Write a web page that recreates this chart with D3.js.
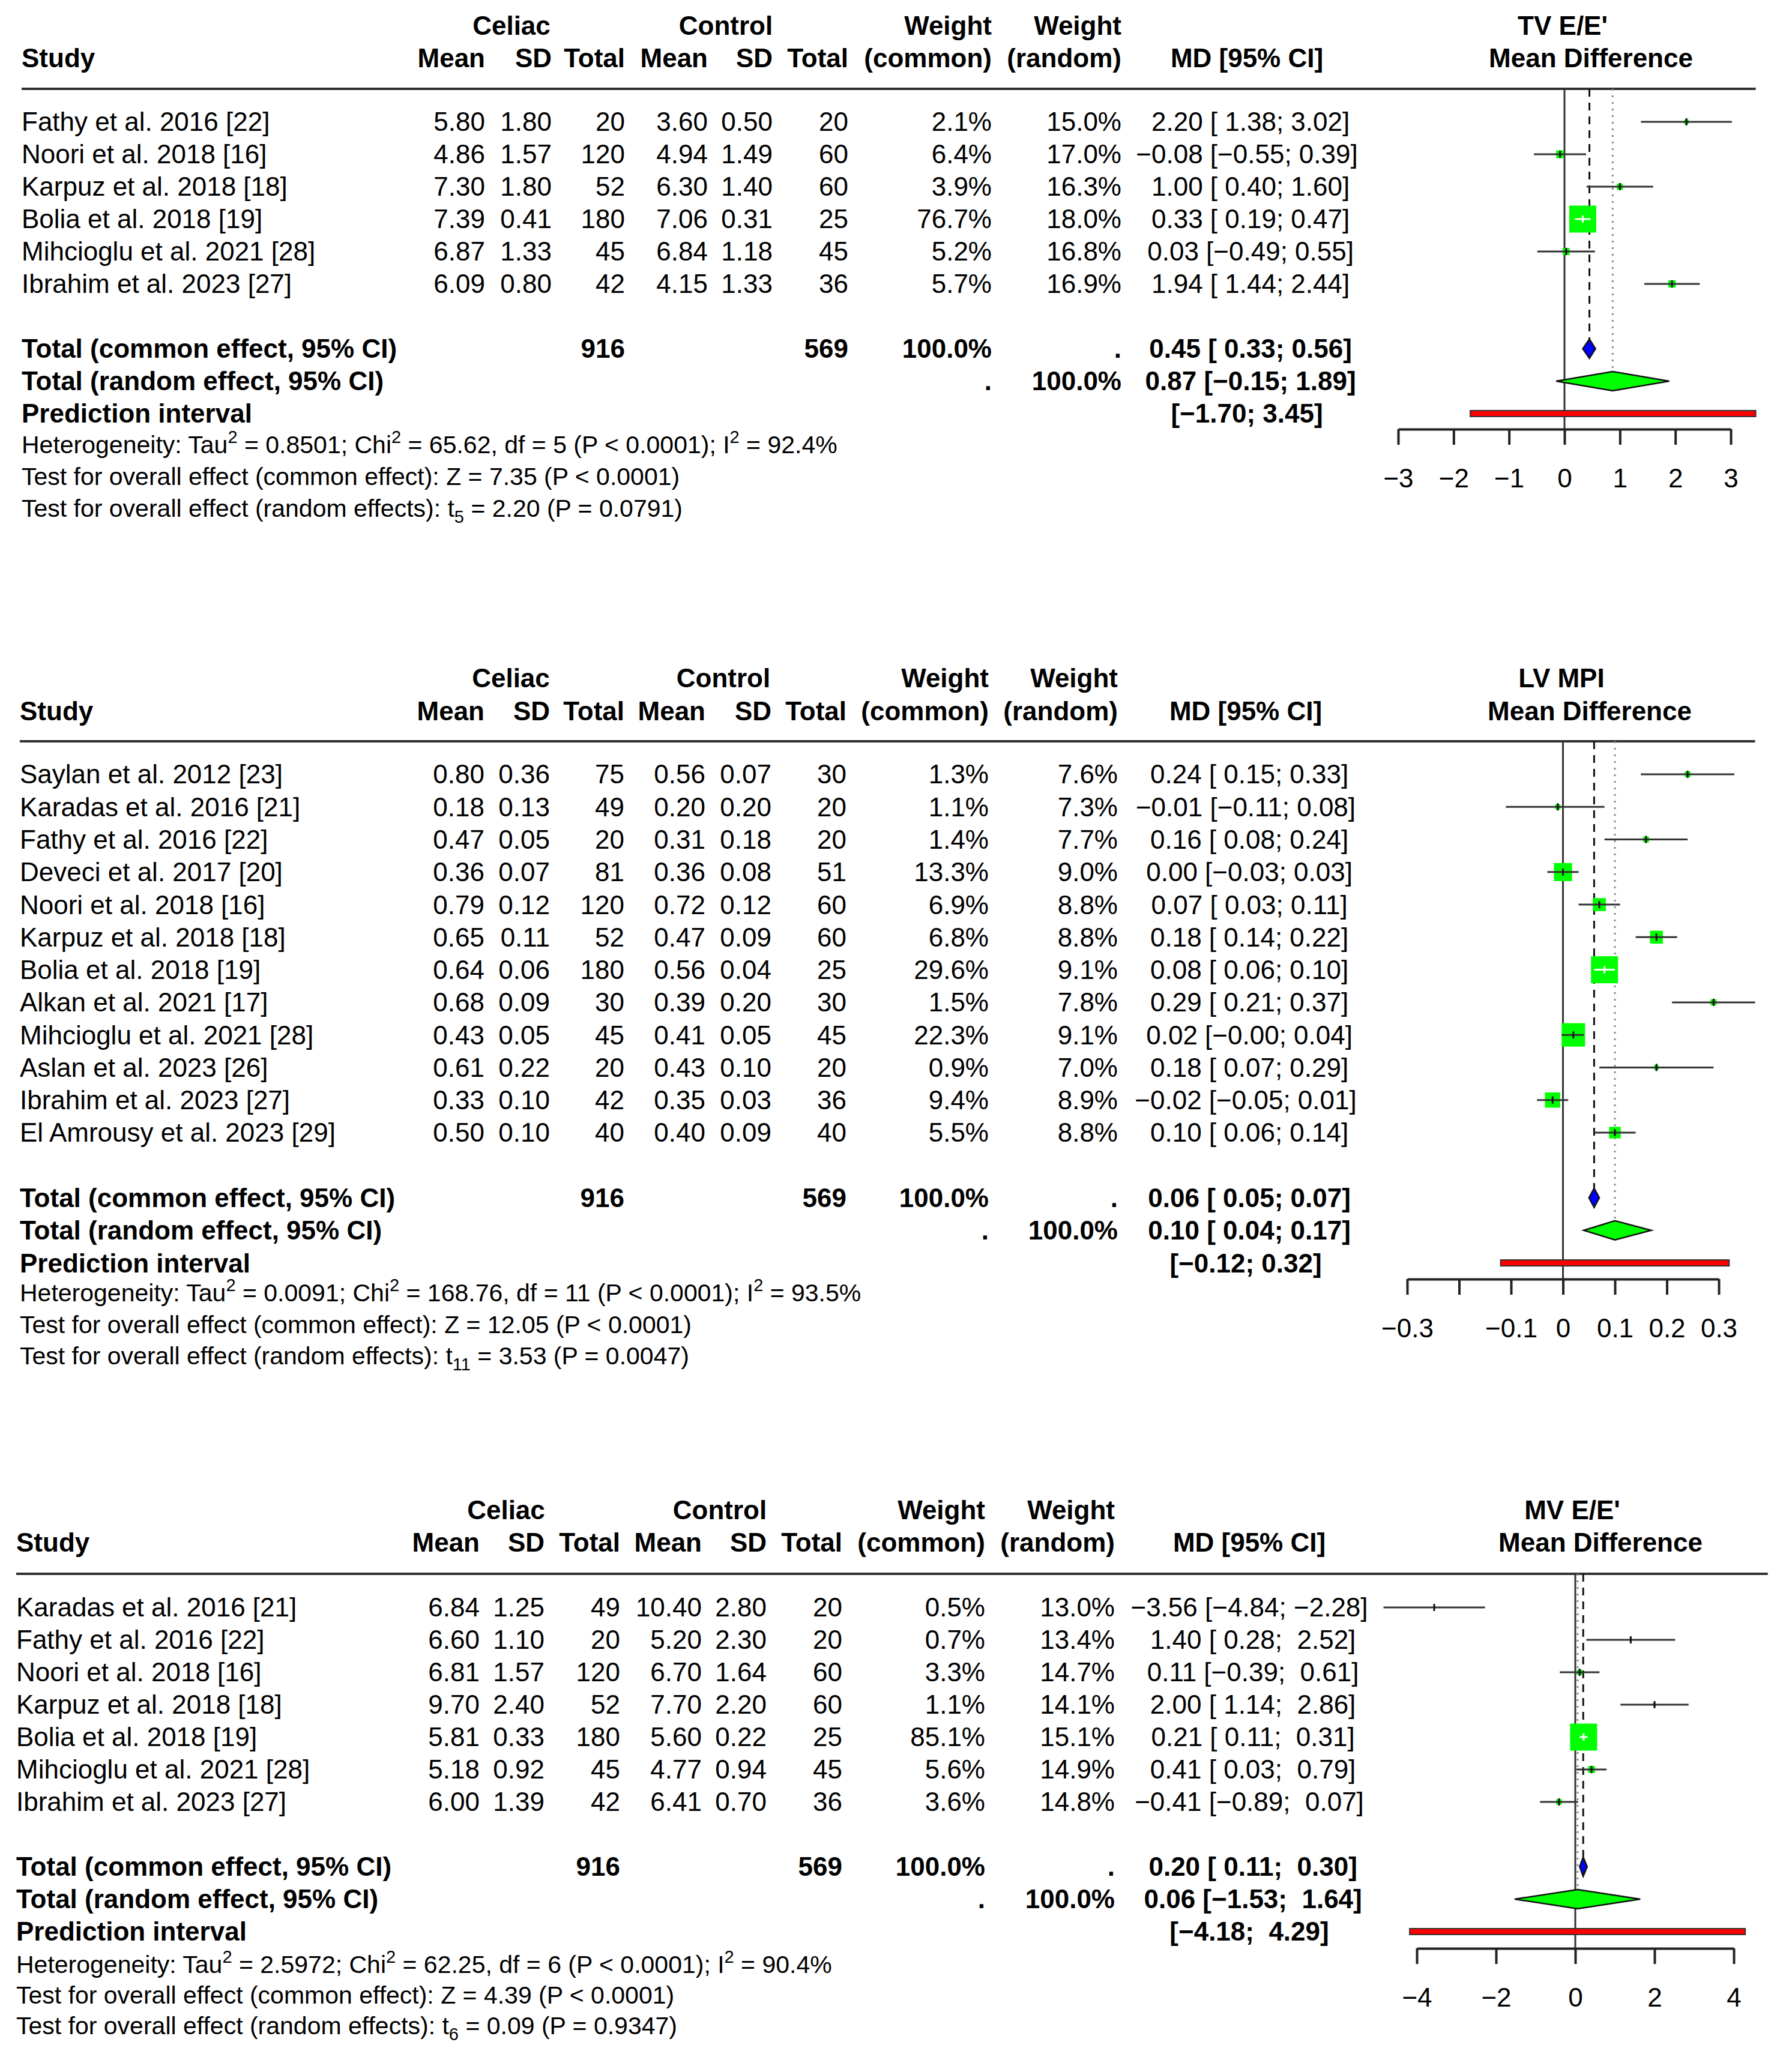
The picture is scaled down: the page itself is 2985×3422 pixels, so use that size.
<!DOCTYPE html>
<html><head><meta charset="utf-8">
<script src="https://cdn.jsdelivr.net/npm/d3@7/dist/d3.min.js"></script>
<style>
body{margin:0;background:#fff}
svg text{font-family:"Liberation Sans",Arial,Helvetica,sans-serif;white-space:pre}
</style>
</head><body><script>
// ---------------- DATA ----------------
const titles = ["TV E/E'", "LV MPI", "MV E/E'"];
const subTitle = "Mean Difference";

// Panel 1: TV E/E'
const studies1 = ["Fathy et al. 2016 [22]","Noori et al. 2018 [16]","Karpuz et al. 2018 [18]","Bolia et al. 2018 [19]","Mihcioglu et al. 2021 [28]","Ibrahim et al. 2023 [27]"];
const celiacMean1 = [5.80, 4.86, 7.30, 7.39, 6.87, 6.09];
const celiacSD1   = [1.80, 1.57, 1.80, 0.41, 1.33, 0.80];
const celiacN1    = [20, 120, 52, 180, 45, 42];
const controlMean1 = [3.60, 4.94, 6.30, 7.06, 6.84, 4.15];
const controlSD1   = [0.50, 1.49, 1.40, 0.31, 1.18, 1.33];
const controlN1    = [20, 60, 60, 25, 45, 36];
const weightCommon1 = [2.1, 6.4, 3.9, 76.7, 5.2, 5.7];
const weightRandom1 = [15.0, 17.0, 16.3, 18.0, 16.8, 16.9];
const md1    = [2.20, -0.08, 1.00, 0.33, 0.03, 1.94];
const lower1 = [1.38, -0.55, 0.40, 0.19, -0.49, 1.44];
const upper1 = [3.02, 0.39, 1.60, 0.47, 0.55, 2.44];
const ticks1 = [-3, -2, -1, 0, 1, 2, 3];
const tickLabels1 = ["−3","−2","−1","0","1","2","3"];

// Panel 2: LV MPI
const studies2 = ["Saylan et al. 2012 [23]","Karadas et al. 2016 [21]","Fathy et al. 2016 [22]","Deveci et al. 2017 [20]","Noori et al. 2018 [16]","Karpuz et al. 2018 [18]","Bolia et al. 2018 [19]","Alkan et al. 2021 [17]","Mihcioglu et al. 2021 [28]","Aslan et al. 2023 [26]","Ibrahim et al. 2023 [27]","El Amrousy et al. 2023 [29]"];
const celiacMean2 = [0.80, 0.18, 0.47, 0.36, 0.79, 0.65, 0.64, 0.68, 0.43, 0.61, 0.33, 0.50];
const celiacSD2   = [0.36, 0.13, 0.05, 0.07, 0.12, 0.11, 0.06, 0.09, 0.05, 0.22, 0.10, 0.10];
const celiacN2    = [75, 49, 20, 81, 120, 52, 180, 30, 45, 20, 42, 40];
const controlMean2 = [0.56, 0.20, 0.31, 0.36, 0.72, 0.47, 0.56, 0.39, 0.41, 0.43, 0.35, 0.40];
const controlSD2   = [0.07, 0.20, 0.18, 0.08, 0.12, 0.09, 0.04, 0.20, 0.05, 0.10, 0.03, 0.09];
const controlN2    = [30, 20, 20, 51, 60, 60, 25, 30, 45, 20, 36, 40];
const weightCommon2 = [1.3, 1.1, 1.4, 13.3, 6.9, 6.8, 29.6, 1.5, 22.3, 0.9, 9.4, 5.5];
const weightRandom2 = [7.6, 7.3, 7.7, 9.0, 8.8, 8.8, 9.1, 7.8, 9.1, 7.0, 8.9, 8.8];
const md2    = [0.24, -0.01, 0.16, 0.00, 0.07, 0.18, 0.08, 0.29, 0.02, 0.18, -0.02, 0.10];
const lower2 = [0.15, -0.11, 0.08, -0.03, 0.03, 0.14, 0.06, 0.21, -0.003, 0.07, -0.05, 0.06];
const upper2 = [0.33, 0.08, 0.24, 0.03, 0.11, 0.22, 0.10, 0.37, 0.04, 0.29, 0.01, 0.14];
const ticks2 = [-0.3, -0.2, -0.1, 0, 0.1, 0.2, 0.3];
const tickLabels2 = ["−0.3","","−0.1","0","0.1","0.2","0.3"];

// Panel 3: MV E/E'
const studies3 = ["Karadas et al. 2016 [21]","Fathy et al. 2016 [22]","Noori et al. 2018 [16]","Karpuz et al. 2018 [18]","Bolia et al. 2018 [19]","Mihcioglu et al. 2021 [28]","Ibrahim et al. 2023 [27]"];
const celiacMean3 = [6.84, 6.60, 6.81, 9.70, 5.81, 5.18, 6.00];
const celiacSD3   = [1.25, 1.10, 1.57, 2.40, 0.33, 0.92, 1.39];
const celiacN3    = [49, 20, 120, 52, 180, 45, 42];
const controlMean3 = [10.40, 5.20, 6.70, 7.70, 5.60, 4.77, 6.41];
const controlSD3   = [2.80, 2.30, 1.64, 2.20, 0.22, 0.94, 0.70];
const controlN3    = [20, 20, 60, 60, 25, 45, 36];
const weightCommon3 = [0.5, 0.7, 3.3, 1.1, 85.1, 5.6, 3.6];
const weightRandom3 = [13.0, 13.4, 14.7, 14.1, 15.1, 14.9, 14.8];
const md3    = [-3.56, 1.40, 0.11, 2.00, 0.21, 0.41, -0.41];
const lower3 = [-4.84, 0.28, -0.39, 1.14, 0.11, 0.03, -0.89];
const upper3 = [-2.28, 2.52, 0.61, 2.86, 0.31, 0.79, 0.07];
const ticks3 = [-4, -2, 0, 2, 4];
const tickLabels3 = ["−4","−2","0","2","4"];

// Pooled results (panels 1..3)
const totalCeliac  = [916, 916, 916];
const totalControl = [569, 569, 569];
const commonMD  = [0.45, 0.06, 0.20];
const commonLo  = [0.33, 0.05, 0.11];
const commonHi  = [0.56, 0.07, 0.30];
const randomMD  = [0.87, 0.10, 0.06];
const randomLo  = [-0.15, 0.04, -1.53];
const randomHi  = [1.89, 0.17, 1.64];
const predLo    = [-1.70, -0.12, -4.18];
const predHi    = [3.45, 0.32, 4.29];
const tau2  = ["0.8501", "0.0091", "2.5972"];
const chi2  = ["65.62", "168.76", "62.25"];
const dfHet = ["5", "11", "6"];
const i2    = ["92.4%", "93.5%", "90.4%"];
const zVal  = ["7.35", "12.05", "4.39"];
const zP    = ["P < 0.0001", "P < 0.0001", "P < 0.0001"];
const tVal  = ["2.20", "3.53", "0.09"];
const tP    = ["P = 0.0791", "P = 0.0047", "P = 0.9347"];

const panelData = [
  {studies:studies1, cm:celiacMean1, cs:celiacSD1, cn:celiacN1, km:controlMean1, ks:controlSD1, kn:controlN1, wc:weightCommon1, wr:weightRandom1, md:md1, lo:lower1, hi:upper1, ticks:ticks1, tickLabels:tickLabels1},
  {studies:studies2, cm:celiacMean2, cs:celiacSD2, cn:celiacN2, km:controlMean2, ks:controlSD2, kn:controlN2, wc:weightCommon2, wr:weightRandom2, md:md2, lo:lower2, hi:upper2, ticks:ticks2, tickLabels:tickLabels2},
  {studies:studies3, cm:celiacMean3, cs:celiacSD3, cn:celiacN3, km:controlMean3, ks:controlSD3, kn:controlN3, wc:weightCommon3, wr:weightRandom3, md:md3, lo:lower3, hi:upper3, ticks:ticks3, tickLabels:tickLabels3}
];

// ---------------- LAYOUT ----------------
const layouts = [
  {left:36, cm:808, cs:919, cn:1041, km:1179, ks:1287, kn:1413, wc:1652, wr:1868, mdc:2077,
   h1:43, h2:97, rule:148, row0:203, step:54, axisY:715, het:[741,794,847],
   dom:[-3,3], rng:[2329,2883], ruleRight:3.45, lab1x:2603, lab2x:2650},
  {left:33, cm:807, cs:916, cn:1040, km:1175, ks:1285, kn:1410, wc:1647, wr:1862, mdc:2075,
   h1:1130, h2:1185, rule:1235, row0:1290, step:54.27, axisY:2131, het:[2154,2207,2259],
   dom:[-0.3,0.3], rng:[2344,2863], ruleRight:0.37, lab1x:2601, lab2x:2648},
  {left:27, cm:799, cs:907, cn:1033, km:1169, ks:1277, kn:1403, wc:1641, wr:1857, mdc:2081,
   h1:2516, h2:2570, rule:2622, row0:2678, step:54, axisY:3246, het:[3273,3324,3375],
   dom:[-4,4], rng:[2360,2888], ruleRight:4.86, lab1x:2619, lab2x:2666}
];
const FS = 44, FS_HET = 41, BOX_MAX = 45;

const svg = d3.select("body").append("svg")
  .attr("width", 2985).attr("height", 3422);
svg.append("rect").attr("width", 2985).attr("height", 3422).attr("fill", "#fff");

const f2 = v => (v < 0 ? "−" : "") + Math.abs(v).toFixed(2);
const pad = (s, w) => " ".repeat(Math.max(0, w - s.length)) + s;

panelData.forEach((d, k) => drawPanel(d, layouts[k], k));

function drawPanel(d, L, k) {
  const g = svg.append("g");
  const x = d3.scaleLinear().domain(L.dom).range(L.rng);
  const n = d.studies.length;
  const rowY = i => L.row0 + i * L.step;
  const yC = rowY(n + 1), yR = rowY(n + 2), yP = rowY(n + 3);

  const T = (x0, y0, s, anchor, bold, size) => {
    const fs = size || FS;
    return g.append("text")
      .attr("x", x0).attr("y", y0 + 0.352 * fs)
      .attr("text-anchor", anchor || "end")
      .attr("font-weight", bold ? "bold" : "normal")
      .attr("font-size", fs)
      .attr("xml:space", "preserve")
      .attr("fill", "#000")
      .text(s);
  };

  // headers
  T(L.cm + 44, L.h1, "Celiac", "middle", true);
  T(L.km + 30, L.h1, "Control", "middle", true);
  T(L.wc, L.h1, "Weight", "end", true);
  T(L.wr, L.h1, "Weight", "end", true);
  T(L.lab1x, L.h1, titles[k], "middle", true);
  T(L.left, L.h2, "Study", "start", true);
  [["Mean", L.cm], ["SD", L.cs], ["Total", L.cn], ["Mean", L.km], ["SD", L.ks], ["Total", L.kn],
   ["(common)", L.wc], ["(random)", L.wr]].forEach(([s, xx]) => T(xx, L.h2, s, "end", true));
  T(L.mdc, L.h2, "MD [95% CI]", "middle", true);
  T(L.lab2x, L.h2, subTitle, "middle", true);

  // header rule
  g.append("line").attr("x1", L.left).attr("x2", x(L.ruleRight))
    .attr("y1", L.rule).attr("y2", L.rule)
    .attr("stroke", "#303030").attr("stroke-width", 4);

  // MD column formatting widths
  const allTE = d.md.concat([commonMD[k], randomMD[k]]).map(f2);
  const allLo = d.lo.concat([commonLo[k], randomLo[k], predLo[k]]).map(f2);
  const allHi = d.hi.concat([commonHi[k], randomHi[k], predHi[k]]).map(f2);
  const wTE = d3.max(allTE, s => s.length), wLo = d3.max(allLo, s => s.length), wHi = d3.max(allHi, s => s.length);
  const ciStr = (lo, hi) => "[" + pad(f2(lo), wLo) + "; " + pad(f2(hi), wHi) + "]";
  const mdStr = (te, lo, hi) => pad(f2(te), wTE) + " " + ciStr(lo, hi);

  // study rows
  d.studies.forEach((s, i) => {
    const y = rowY(i);
    T(L.left, y, s, "start");
    T(L.cm, y, d.cm[i].toFixed(2));
    T(L.cs, y, d.cs[i].toFixed(2));
    T(L.cn, y, String(d.cn[i]));
    T(L.km, y, d.km[i].toFixed(2));
    T(L.ks, y, d.ks[i].toFixed(2));
    T(L.kn, y, String(d.kn[i]));
    T(L.wc, y, d.wc[i].toFixed(1) + "%");
    T(L.wr, y, d.wr[i].toFixed(1) + "%");
    T(L.mdc, y, mdStr(d.md[i], d.lo[i], d.hi[i]), "middle");
  });

  // totals
  T(L.left, yC, "Total (common effect, 95% CI)", "start", true);
  T(L.cn, yC, String(totalCeliac[k]), "end", true);
  T(L.kn, yC, String(totalControl[k]), "end", true);
  T(L.wc, yC, "100.0%", "end", true);
  T(L.wr, yC, ".", "end", true);
  T(L.mdc, yC, mdStr(commonMD[k], commonLo[k], commonHi[k]), "middle", true);
  T(L.left, yR, "Total (random effect, 95% CI)", "start", true);
  T(L.wc, yR, ".", "end", true);
  T(L.wr, yR, "100.0%", "end", true);
  T(L.mdc, yR, mdStr(randomMD[k], randomLo[k], randomHi[k]), "middle", true);
  T(L.left, yP, "Prediction interval", "start", true);
  T(L.mdc, yP, ciStr(predLo[k], predHi[k]), "middle", true);

  // heterogeneity lines
  const het = [
    [["Heterogeneity: Tau", "n"], ["2", "sup"], [" = " + tau2[k] + "; Chi", "n"], ["2", "sup"],
     [" = " + chi2[k] + ", df = " + dfHet[k] + " (" + zP[k] + "); I", "n"], ["2", "sup"], [" = " + i2[k], "n"]],
    [["Test for overall effect (common effect): Z = " + zVal[k] + " (" + zP[k] + ")", "n"]],
    [["Test for overall effect (random effects): t", "n"], [dfHet[k], "sub"], [" = " + tVal[k] + " (" + tP[k] + ")", "n"]]
  ];
  het.forEach((segs, j) => {
    const t = g.append("text").attr("x", L.left).attr("y", L.het[j] + 0.352 * FS_HET)
      .attr("font-size", FS_HET).attr("xml:space", "preserve").attr("fill", "#000");
    let shift = 0;
    segs.forEach(([s, type]) => {
      let target = type === "sup" ? -17 : type === "sub" ? 10 : 0;
      t.append("tspan").attr("dy", target - shift)
        .attr("font-size", type === "n" ? FS_HET : 29).text(s);
      shift = target;
    });
  });

  // forest: reference & pooled lines
  const x0 = x(0);
  g.append("line").attr("x1", x0).attr("x2", x0).attr("y1", L.rule).attr("y2", L.axisY)
    .attr("stroke", "#333").attr("stroke-width", 3);
  const dh = 16;
  g.append("line").attr("x1", x(commonMD[k])).attr("x2", x(commonMD[k]))
    .attr("y1", L.rule).attr("y2", yC - dh)
    .attr("stroke", "#111").attr("stroke-width", 3).attr("stroke-dasharray", "13,10");
  g.append("line").attr("x1", x(randomMD[k])).attr("x2", x(randomMD[k]))
    .attr("y1", L.rule).attr("y2", yR - dh)
    .attr("stroke", "#8a8a8a").attr("stroke-width", 3).attr("stroke-dasharray", "3,8");

  // study squares and CIs
  const wmax = d3.max(d.wc);
  d.studies.forEach((s, i) => {
    const y = rowY(i);
    const side = BOX_MAX * Math.sqrt(d.wc[i] / wmax);
    const cx = x(d.md[i]);
    g.append("rect").attr("x", cx - side / 2).attr("y", y - side / 2)
      .attr("width", side).attr("height", side).attr("fill", "#00ff00");
    const inside = x(d.lo[i]) >= cx - side / 2 && x(d.hi[i]) <= cx + side / 2;
    const col = inside ? "#ffffff" : "#333";
    g.append("line").attr("x1", x(d.lo[i])).attr("x2", x(d.hi[i]))
      .attr("y1", y).attr("y2", y).attr("stroke", col).attr("stroke-width", 3);
    g.append("line").attr("x1", cx).attr("x2", cx).attr("y1", y - 6).attr("y2", y + 6)
      .attr("stroke", inside ? "#ffffff" : "#111").attr("stroke-width", 3);
  });

  // diamonds
  const diamond = (m, lo, hi, y, fill) => {
    g.append("path")
      .attr("d", `M${x(lo)},${y}L${x(m)},${y - dh}L${x(hi)},${y}L${x(m)},${y + dh}Z`)
      .attr("fill", fill).attr("stroke", "#111").attr("stroke-width", 2.5);
  };
  diamond(commonMD[k], commonLo[k], commonHi[k], yC, "#0000ff");
  diamond(randomMD[k], randomLo[k], randomHi[k], yR, "#00ff00");

  // prediction interval
  g.append("rect").attr("x", x(predLo[k])).attr("y", yP - 5)
    .attr("width", x(predHi[k]) - x(predLo[k])).attr("height", 10)
    .attr("fill", "#ff0000").attr("stroke", "#333").attr("stroke-width", 2);

  // axis
  const ax = d3.axisBottom(x).tickValues(d.ticks)
    .tickFormat((v, i) => d.tickLabels[i])
    .tickSize(26).tickSizeOuter(0).tickPadding(40);
  const ag = g.append("g").attr("transform", `translate(0,${L.axisY})`).call(ax);
  ag.attr("font-size", FS).attr("font-family", null);
  ag.select(".domain").attr("stroke", "#222").attr("stroke-width", 4);
  ag.selectAll(".tick line").attr("stroke", "#222").attr("stroke-width", 4);
  ag.selectAll(".tick text").attr("fill", "#000").attr("font-size", FS);
}
</script></body></html>
